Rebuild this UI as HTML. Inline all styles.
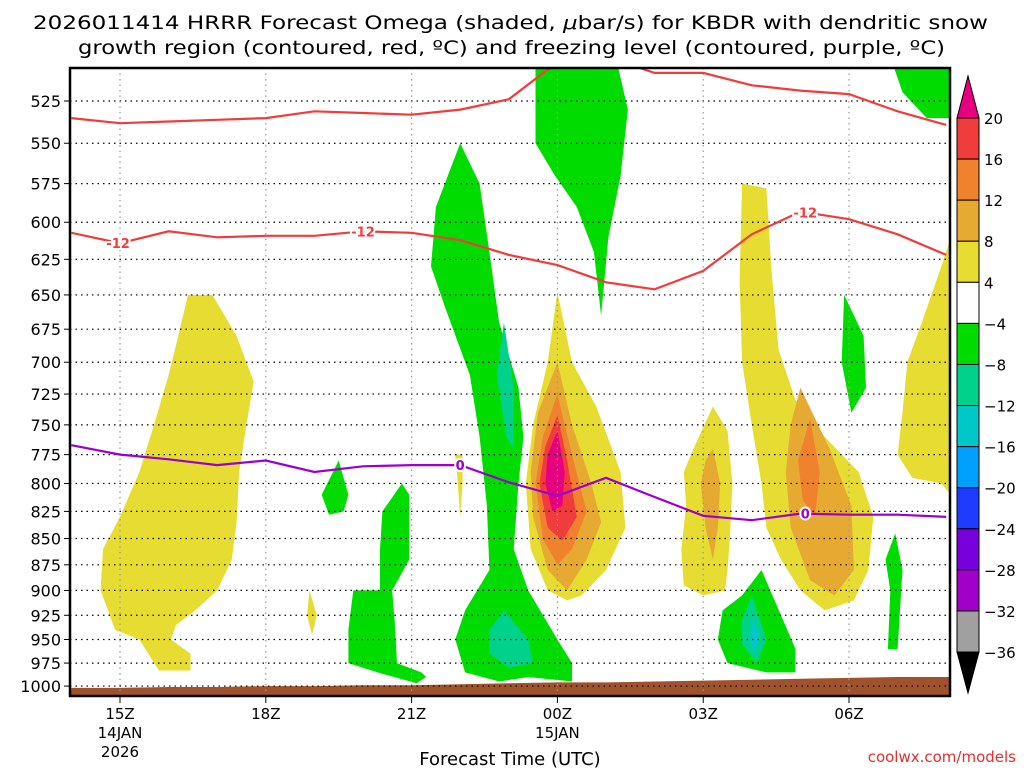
<!DOCTYPE html>
<html><head><meta charset="utf-8"><style>
body{margin:0;background:#fff;}
svg text{font-family:"DejaVu Sans","Liberation Sans",sans-serif;}
</style></head><body>
<svg id="chart" width="1024" height="768" xmlns="http://www.w3.org/2000/svg">
<text x="33" y="29" font-size="19" textLength="955" lengthAdjust="spacingAndGlyphs">2026011414 HRRR Forecast Omega (shaded, <tspan font-style="italic">μ</tspan>bar/s) for KBDR with dendritic snow</text>
<text x="78" y="54" font-size="19" textLength="867" lengthAdjust="spacingAndGlyphs">growth region (contoured, red, ºC) and freezing level (contoured, purple, ºC)</text>
<defs><clipPath id="clip"><rect x="70" y="68" width="880" height="628"/></clipPath></defs>
<g id="fills" clip-path="url(#clip)"></g>
<g id="grid"></g>
<g id="lines" clip-path="url(#clip)"></g>
<rect x="70" y="68" width="880" height="628" fill="none" stroke="#000" stroke-width="2.5"/>
<g id="axes"></g>
<g id="cbar"></g>
<text x="510" y="765" font-size="18" text-anchor="middle">Forecast Time (UTC)</text>
<text x="1016" y="762" font-size="15" fill="#e03030" text-anchor="end">coolwx.com/models</text>
</svg>
<script>
const pTicks=[525,550,575,600,625,650,675,700,725,750,775,800,825,850,875,900,925,950,975,1000];
const xTickHours=[1,4,7,10,13,16];
const xTickLabels=[["15Z","14JAN","2026"],["18Z"],["21Z"],["00Z","15JAN"],["03Z"],["06Z"]];
const hours=[0,1,2,3,4,5,6,7,8,9,10,11,12,13,14,15,16,17,18];
const dgzTop=[535,538,537,536,535,531,532,533,530,524,503,500,509,509,516,519,521,531,539];
const dgzBottom=[607,614,606,610,609,609,606,607,612,622,629,641,646,633,608,593,598,608,622];
const freezing=[767,775,779,784,780,790,785,784,784,799,811,795,812,829,833,827,828,828,830];
const surface=[1002,1002,1001,1001,1000,1000,999,999,998,997,996,996,995,994,993,992,991,990,990];
const cbLevels=[20,16,12,8,4,-4,-8,-12,-16,-20,-24,-28,-32,-36];
const cbColors=["#f03c3c","#f0822d","#e6aa32","#e6dc32","#ffffff","#00dc00","#00d28c","#00c8c8","#00a0ff","#1e3cff","#7800dc","#a000c8","#a0a0a0"];
const COL={y:"#e6dc32",o1:"#e6aa32",o2:"#f0822d",r:"#f03c3c",m:"#e6007f",g:"#00dc00",t:"#00d28c",c:"#00c8c8"};
const regions=[
["y",[[2.4,650],[2.9,650],[3.4,680],[3.75,715],[3.6,750],[3.45,790],[3.4,835],[3.3,870],[3,900],[2.55,920],[2.15,935],[2.05,950],[2.45,965],[2.45,983],[1.8,983],[1.4,950],[0.9,940],[0.6,900],[0.65,860],[1,830],[1.4,790],[1.7,750],[2,710],[2.2,680]]],
["y",[[4.9,900],[5.05,925],[4.95,945],[4.85,925]]],
["y",[[7.9,775],[8.05,775],[8.05,800],[8.0,830],[7.95,800]]],
["y",[[10,648],[10.3,700],[10.8,735],[11.3,790],[11.4,840],[11.0,880],[10.5,905],[10.2,910],[9.8,900],[9.45,860],[9.35,800],[9.5,750],[9.8,700]]],
["o1",[[10,700],[10.3,750],[10.7,800],[10.9,835],[10.6,870],[10.2,900],[9.8,880],[9.5,830],[9.45,790],[9.6,740]]],
["o2",[[10,725],[10.3,775],[10.6,825],[10.3,860],[10,875],[9.7,850],[9.55,800],[9.7,760]]],
["r",[[10,742],[10.2,780],[10.4,830],[10.1,852],[9.8,840],[9.63,800],[9.75,768]]],
["m",[[10,755],[10.15,790],[10.1,820],[9.9,825],[9.75,800],[9.8,775]]],
["y",[[13.2,735],[13.5,755],[13.6,800],[13.55,850],[13.5,880],[13.45,900],[13,905],[12.6,895],[12.55,860],[12.65,820],[12.6,790],[12.8,770]]],
["o1",[[13.2,770],[13.35,800],[13.3,840],[13.2,870],[13.05,840],[12.95,800],[13.05,780]]],
["y",[[13.8,575],[14.3,578],[14.4,630],[14.55,690],[14.9,730],[15.5,760],[16.2,790],[16.5,830],[16.4,880],[16.1,910],[15.5,920],[15,900],[14.6,870],[14.3,840],[14.2,800],[14.0,750],[13.8,700],[13.75,640]]],
["y",[[18.2,600],[18.2,815],[17.9,800],[17.3,795],[17.0,775],[17.1,740],[17.2,700],[17.5,670],[17.9,630]]],
["o1",[[15.0,720],[15.6,770],[16.05,820],[16.1,880],[15.7,905],[15.2,890],[14.8,840],[14.7,790],[14.8,750]]],
["o2",[[15.2,745],[15.4,790],[15.3,830],[15.05,815],[14.95,780]]],
["g",[[9.55,500],[11.2,500],[11.45,530],[11.3,570],[11.05,610],[10.9,665],[10.75,620],[10.4,590],[9.95,570],[9.55,550]]],
["g",[[8.0,550],[8.4,575],[8.6,620],[8.8,670],[9.2,720],[9.3,760],[9.2,800],[9.1,860],[9.4,900],[10.0,950],[10.3,975],[10.3,995],[9.4,990],[8.8,995],[8.1,985],[7.9,950],[8.1,920],[8.6,880],[8.55,820],[8.4,760],[8.2,710],[7.7,660],[7.4,630],[7.5,590]]],
["t",[[8.9,670],[9.1,720],[9.1,770],[8.95,760],[8.75,710]]],
["t",[[8.9,920],[9.4,950],[9.5,975],[9.0,980],[8.6,965],[8.6,940]]],
["g",[[5.5,780],[5.7,810],[5.6,825],[5.3,828],[5.15,810]]],
["g",[[6.8,800],[6.95,810],[6.95,870],[6.6,900],[6.35,900],[6.35,860],[6.4,825]]],
["g",[[5.8,900],[6.6,900],[6.65,930],[6.7,975],[7.2,985],[7.3,990],[7.1,997],[6.3,985],[5.7,975],[5.7,940]]],
["g",[[14.2,880],[14.6,925],[14.9,960],[14.9,985],[14.3,985],[13.5,975],[13.3,950],[13.4,920],[13.8,905]]],
["t",[[14.0,905],[14.3,950],[14.1,975],[13.8,955],[13.8,930]]],
["c",[[14.05,925],[14.15,950],[14.05,965],[13.95,950]]],
["g",[[15.9,650],[16.3,680],[16.35,720],[16.05,740],[15.85,700]]],
["g",[[16.95,845],[17.1,880],[17.0,960],[16.8,960],[16.85,900],[16.75,870]]],
["g",[[16.85,500],[18.2,500],[18.2,535],[17.6,535],[17.1,520]]]
];
const NS="http://www.w3.org/2000/svg";
const X=t=>120+(t-1)*48.6;
const Y=p=>101+Math.log(p/525)*908;
function mk(tag,attrs,parent){const e=document.createElementNS(NS,tag);for(const k in attrs)e.setAttribute(k,attrs[k]);parent.appendChild(e);return e;}
const fills=document.getElementById('fills'),grid=document.getElementById('grid'),lines=document.getElementById('lines'),axes=document.getElementById('axes'),cbar=document.getElementById('cbar');
regions.forEach((r,i)=>{
 const el=mk('polygon',{points:r[1].map(q=>X(q[0]).toFixed(1)+','+Y(q[1]).toFixed(1)).join(' '),fill:COL[r[0]]},fills);
 
 
});
let tp='70,700 '+hours.map((h,i)=>X(h).toFixed(1)+','+Y(surface[i]).toFixed(1)).join(' ')+' 955,'+Y(surface[surface.length-1]).toFixed(1)+' 955,700';
const terr=mk('polygon',{points:tp,fill:'#a0522d'},fills);


pTicks.forEach(p=>{
 const y=Y(p);
 const gl=mk('line',{x1:70,x2:950,y1:y,y2:y,stroke:'#000','stroke-dasharray':'1.5,4','stroke-width':1.2},grid);
 
 
 mk('line',{x1:64,x2:70,y1:y,y2:y,stroke:'#000'},axes);
 const t=mk('text',{x:61,y:y+6,'font-size':16,'text-anchor':'end'},axes);t.textContent=p;
 
 
});
xTickHours.forEach((h,i)=>{
 const x=X(h);
 const gl=mk('line',{x1:x,x2:x,y1:68,y2:696,stroke:'#999','stroke-dasharray':'1.5,4','stroke-width':1.2},grid);
 
 
 mk('line',{x1:x,x2:x,y1:696,y2:703,stroke:'#000'},axes);
 xTickLabels[i].forEach((s,j)=>{
  const t=mk('text',{x:x,y:719+j*19,'font-size':15,'text-anchor':'middle'},axes);t.textContent=s;
  
  
 });
});
function line(vals,color,name){
 const el=mk('polyline',{points:hours.map((h,i)=>X(h).toFixed(1)+','+Y(vals[i]).toFixed(1)).join(' '),fill:'none',stroke:color,'stroke-width':2.2},lines);
 
 
}
line(dgzTop,'#f03c3c','dgz-top-contour');
line(dgzBottom,'#f03c3c','dgz-minus12-contour');
line(freezing,'#9b00d0','freezing-level-contour');
function lab(h,vals,txt,color){
 const i=Math.floor(h),f=h-i;const v=vals[i]+(vals[Math.min(i+1,vals.length-1)]-vals[i])*f;
 const x=X(h),y=Y(v);
 const t=mk('text',{x:x,y:y+5,'font-size':13,'font-weight':'bold','text-anchor':'middle',fill:color,stroke:'#fff','stroke-width':4,'paint-order':'stroke'},lines);t.textContent=txt;
 
 
}
lab(0.96,dgzBottom,'-12','#f03c3c');lab(6.0,dgzBottom,'-12','#f03c3c');lab(15.1,dgzBottom,'-12','#f03c3c');
lab(8.0,freezing,'0','#9b00d0');lab(15.1,freezing,'0','#9b00d0');
const cbTop=118,cbStep=41.08,cx=957,cw=22;
mk('polygon',{points:`${cx},${cbTop} ${cx+cw},${cbTop} ${cx+cw/2},76`,fill:'#e6007f',stroke:'#000'},cbar);
cbColors.forEach((c,i)=>{
 const r=mk('rect',{x:cx,y:cbTop+i*cbStep,width:cw,height:cbStep,fill:c,stroke:'#000'},cbar);
 
 
});
const bot=cbTop+cbColors.length*cbStep;
mk('polygon',{points:`${cx},${bot} ${cx+cw},${bot} ${cx+cw/2},693`,fill:'#000',stroke:'#000'},cbar);
cbLevels.forEach((v,i)=>{
 const t=mk('text',{x:984,y:cbTop+i*cbStep+6,'font-size':15},cbar);t.textContent=v<0?'\u2212'+(-v):v;
 
 
});
</script>
</body></html>
